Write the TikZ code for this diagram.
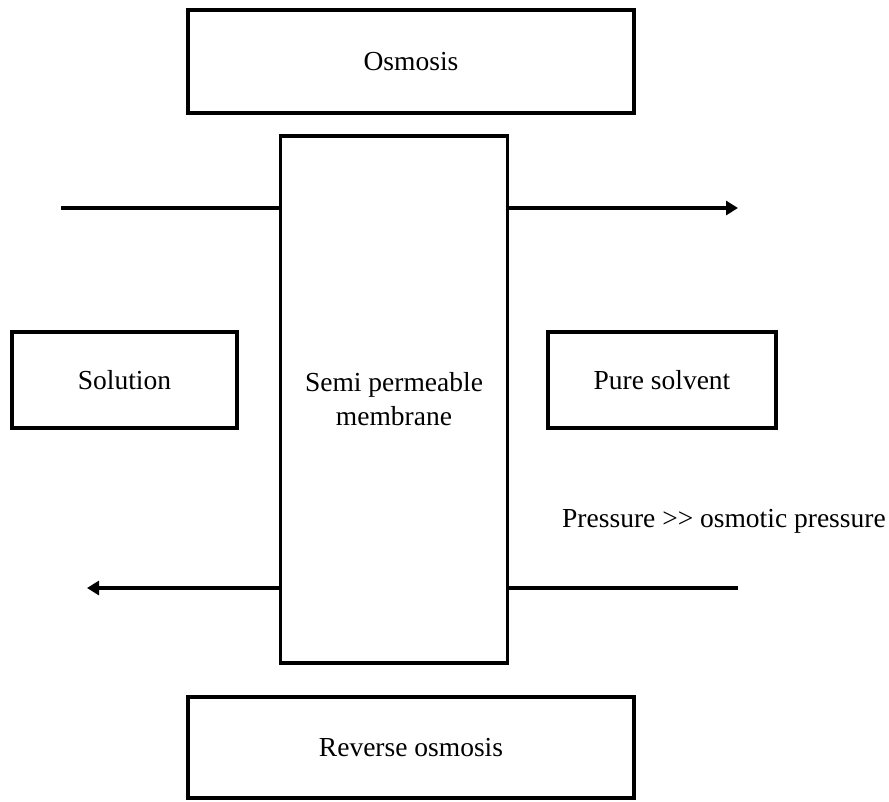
\documentclass[tikz,border=0pt]{standalone}
\usepackage{fontspec}
\setmainfont{Liberation Serif}
\usetikzlibrary{arrows.meta}
\begin{document}
\begin{tikzpicture}[x=1pt,y=-1pt,
  box/.style={draw,line width=3.7pt,inner sep=0pt,outer sep=0pt,align=center,
    font=\fontsize{27.5}{34}\selectfont},
  flow/.style={line width=4.3pt},
  flowarrow/.style={line width=4.3pt,-{Triangle[length=12pt,width=14pt]}},
  lbl/.style={inner sep=0pt,font=\fontsize{27.5}{34}\selectfont}]
\useasboundingbox (0,0) rectangle (889,801);
\node[box,minimum width=446pt,minimum height=103pt] (osm) at (411,61.5) {Osmosis};
\node[box,minimum width=446pt,minimum height=101pt] (rev) at (411,747.5) {Reverse osmosis};
\node[box,minimum width=227pt,minimum height=527pt] (mem) at (394,399.5) {Semi permeable\\membrane};
\node[box,minimum width=225pt,minimum height=96pt] (sol) at (124.5,380) {Solution};
\node[box,minimum width=228pt,minimum height=96pt] (pure) at (662,380) {Pure solvent};
\node[lbl,anchor=base west] (press) at (562,527) {Pressure >{}> osmotic pressure};
\coordinate (inL) at (61,208);
\coordinate (outR) at (738,208);
\coordinate (pR) at (738,588);
\coordinate (pL) at (87,588);
\draw[flow] (inL) -- (inL -| mem.west);
\draw[flowarrow] (outR -| mem.east) -- (outR);
\draw[flow] (pR) -- (pR -| mem.east);
\draw[flowarrow] (pL -| mem.west) -- (pL);
\end{tikzpicture}
\end{document}
